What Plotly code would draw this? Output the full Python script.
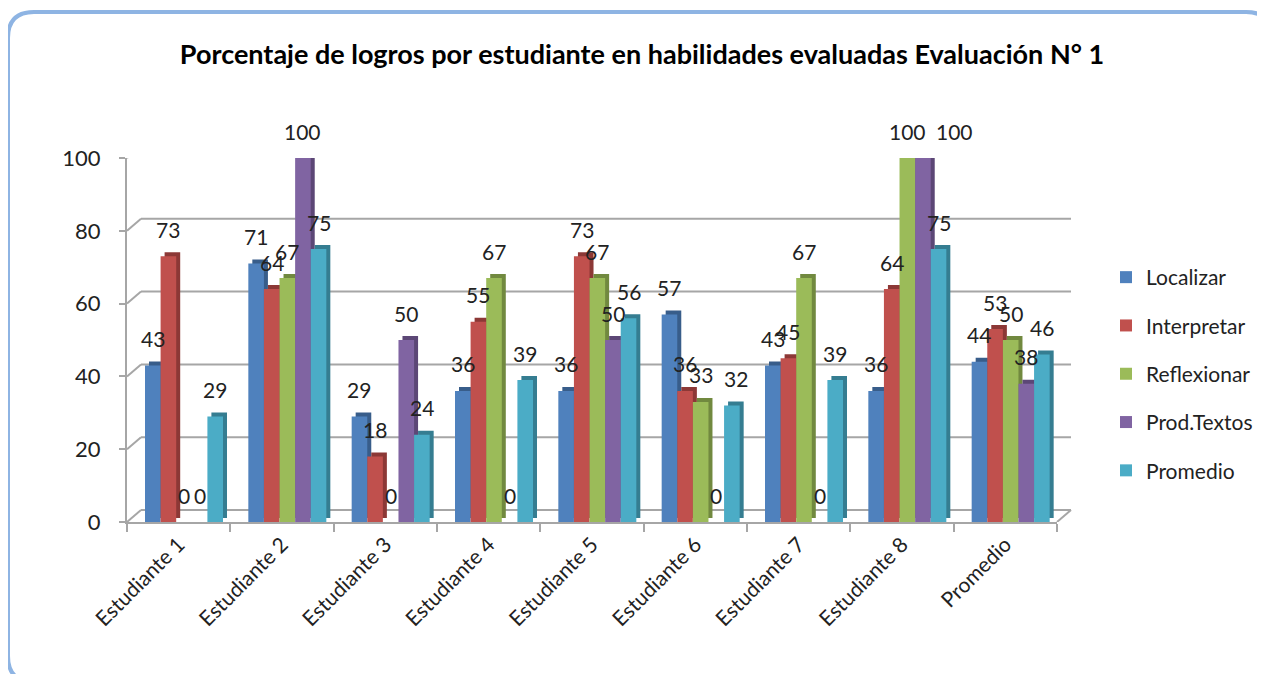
import plotly.graph_objects as go

categories = ["Estudiante 1", "Estudiante 2", "Estudiante 3", "Estudiante 4", "Estudiante 5",
              "Estudiante 6", "Estudiante 7", "Estudiante 8", "Promedio"]
localizar = [43, 71, 29, 36, 36, 57, 43, 36, 44]
interpretar = [73, 64, 18, 55, 73, 36, 45, 64, 53]
reflexionar = [0, 67, 0, 67, 67, 33, 67, 100, 50]
prod_textos = [0, 100, 50, 0, 50, 0, 0, 100, 38]
promedio = [29, 75, 24, 39, 56, 32, 39, 75, 46]

series_names = ["Localizar", "Interpretar", "Reflexionar", "Prod.Textos", "Promedio"]
series_values = [localizar, interpretar, reflexionar, prod_textos, promedio]
front_colors = ["#4F81BD", "#C0504D", "#9BBB59", "#8064A2", "#4BACC6"]
side_colors = ["#385D8A", "#8C3836", "#71893F", "#5C4776", "#357D91"]
y_ticks = [0, 20, 40, 60, 80, 100]

# page offset (browser body margin)
OFF = 8
W, H = 1265 - OFF, 674 - OFF
# reference pixel positions (window frame)
L, R = 127, 1057
Y0, Y100 = 522, 158
pw = R - L
ph = Y0 - Y100
cat_px = pw / len(categories)
depth_x, depth_y = 14, 12
dy_units = depth_y / ph * 100

bar_w = 15.6 / cat_px
start = -0.5 + 18 / cat_px
side_dx = 4 / cat_px
side_dy = 4 / ph * 100

FONT = "Lato, Calibri, sans-serif"
LABEL_SIZE = 21

fig = go.Figure()

placed = {c: [] for c in categories}

for i, (name, vals) in enumerate(zip(series_names, series_values)):
    off = start + i * bar_w
    fig.add_trace(go.Bar(
        x=categories, y=vals, base=[side_dy] * len(vals),
        offset=off + side_dx, width=bar_w,
        marker=dict(color=side_colors[i], line=dict(width=0)),
        showlegend=False, hoverinfo="skip",
    ))
    fig.add_trace(go.Bar(
        x=categories, y=vals, name=name, legendgroup=name,
        offset=off, width=bar_w,
        marker=dict(color=front_colors[i], line=dict(width=0)),
    ))
    for c, v in zip(categories, vals):
        xs = (off + bar_w / 2) * cat_px
        tw = len(str(v)) * LABEL_SIZE * 0.56
        for (pxs, pv, ptw) in placed[c]:
            if abs(pv - v) < 2 and len(str(v)) > 1 and xs - pxs < (tw + ptw) / 2 + 10:
                xs = pxs + (tw + ptw) / 2 + 12
        placed[c].append((xs, v, tw))
        fig.add_annotation(
            x=c, y=v, xref="x", yref="y",
            xshift=xs, yshift=27,
            text=str(v), showarrow=False,
            font=dict(family=FONT, size=LABEL_SIZE, color="#222222"),
            xanchor="center", yanchor="middle",
        )


def px_to_paper(x, y):
    return (x - L) / pw, (Y0 - y) / ph


shapes = []
grid_color = "#A6A6A6"
gx0 = depth_x / pw
gx1 = 1 + depth_x / pw
for t in y_ticks:
    shapes.append(dict(type="line", xref="paper", yref="y", x0=gx0, x1=gx1,
                       y0=t + dy_units, y1=t + dy_units,
                       line=dict(color=grid_color, width=2), layer="below"))
    shapes.append(dict(type="line", xref="paper", yref="y", x0=0, x1=gx0,
                       y0=t, y1=t + dy_units,
                       line=dict(color=grid_color, width=2), layer="below"))
shapes.append(dict(type="line", xref="paper", yref="y", x0=1, x1=gx1,
                   y0=0, y1=dy_units, line=dict(color=grid_color, width=2), layer="below"))

# rounded outer border
bx0, by0, bx1, by1, rr = 8, 12, 1272, 682, 26
def P(x, y):
    a, b = px_to_paper(x, y)
    return f"{a:.5f},{b:.5f}"
path = (f"M {P(bx0 + rr, by0)} L {P(bx1 - rr, by0)} Q {P(bx1, by0)} {P(bx1, by0 + rr)} "
        f"L {P(bx1, by1 - rr)} Q {P(bx1, by1)} {P(bx1 - rr, by1)} "
        f"L {P(bx0 + rr, by1)} Q {P(bx0, by1)} {P(bx0, by1 - rr)} "
        f"L {P(bx0, by0 + rr)} Q {P(bx0, by0)} {P(bx0 + rr, by0)} Z")
shapes.append(dict(type="path", xref="paper", yref="paper", path=path,
                   line=dict(color="#8EB4E3", width=4), layer="above"))

fig.update_layout(
    width=W, height=H,
    margin=dict(l=L - OFF, r=1265 - R, t=Y100 - OFF, b=674 - Y0, autoexpand=False),
    barmode="overlay",
    plot_bgcolor="white", paper_bgcolor="white",
    title=dict(text="<b>Porcentaje de logros por estudiante en habilidades evaluadas Evaluación N° 1</b>",
               x=(642 - OFF) / W, xref="container", xanchor="center",
               y=1 - (55 - OFF) / H, yref="container", yanchor="middle",
               font=dict(family=FONT, size=27, color="#000000")),
    xaxis=dict(type="category", categoryorder="array", categoryarray=categories,
               showgrid=False, showline=True, linecolor=grid_color, linewidth=2,
               ticks="outside", tickson="boundaries", ticklen=8, tickcolor=grid_color, tickwidth=2,
               tickangle=-45, tickfont=dict(family=FONT, size=21, color="#222222"),
               range=[-0.5, len(categories) - 0.5], zeroline=False),
    yaxis=dict(range=[0, 100], tickvals=y_ticks, showgrid=False, zeroline=False,
               showline=True, linecolor=grid_color, linewidth=2,
               ticks="outside", ticklen=6, tickcolor=grid_color, tickwidth=2,
               ticklabelstandoff=14,
               tickfont=dict(family=FONT, size=22, color="#222222")),
    legend=dict(x=(1106 - L) / pw, xanchor="left", y=(Y0 - 374) / ph, yanchor="middle",
                font=dict(family=FONT, size=21, color="#222222"),
                tracegroupgap=18, bgcolor="rgba(0,0,0,0)"),
    shapes=shapes,
    showlegend=True,
)

fig.write_html("out.html")
